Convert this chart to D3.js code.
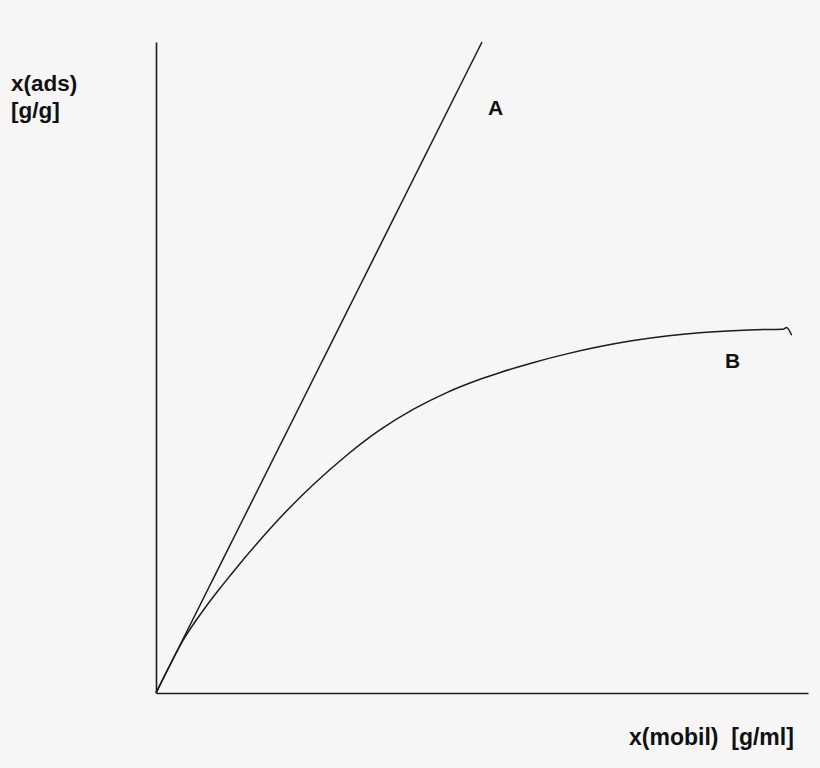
<!DOCTYPE html>
<html>
<head>
<meta charset="utf-8">
<script src="https://cdn.jsdelivr.net/npm/d3@7"></script>
<style>
  html, body { margin: 0; padding: 0; background: #f6f6f6; }
  svg { display: block; }
  text { font-family: "Liberation Sans", Arial, sans-serif; font-weight: bold; fill: #111; }
</style>
</head>
<body>
<svg id="chart" width="820" height="768"></svg>
<script>
// Line A (linear isotherm)
const lineAX = [0, 50];
const lineAY = [0, 100];
// Curve B (saturating isotherm)
const curveBX = [0, 2.0, 4.1, 7.7, 10.2, 12.8, 15.3, 19.0, 24.1, 29.3, 34.4, 39.5, 44.6, 49.7, 52.8, 57.8, 63.0, 68.1, 73.2, 78.3, 83.4, 88.5, 93.7, 96.2, 96.7, 97.5];
const curveBY = [0, 4.0, 7.99, 13.32, 16.57, 19.79, 22.74, 26.88, 31.98, 36.56, 40.44, 43.6, 46.15, 48.19, 49.24, 50.74, 52.09, 53.21, 54.13, 54.84, 55.35, 55.66, 55.84, 55.87, 56.15, 54.95];
const xLabel = "x(mobil)\u00a0\u00a0[g/ml]";
const yLabelLines = ["x(ads)", "[g/g]"];
const seriesLabels = ["A", "B"];

const svg = d3.select("#chart");
const x = d3.scaleLinear().domain([0, 100]).range([156, 808]);
const y = d3.scaleLinear().domain([0, 100]).range([693, 42]);

const stroke = "#1c1c1c";

// axes (no ticks)
const gx = svg.append("g").attr("transform", `translate(0,${y(0)})`)
  .call(d3.axisBottom(x).ticks(0).tickSize(0).tickSizeOuter(0));
const gy = svg.append("g").attr("transform", `translate(${x(0)},0)`)
  .call(d3.axisLeft(y).ticks(0).tickSize(0).tickSizeOuter(0));
[gx, gy].forEach(g => {
  g.select(".domain").attr("stroke", stroke).attr("stroke-width", 1.6);
  g.selectAll("text").remove();
});

const lineGen = d3.line().x(d => x(d[0])).y(d => y(d[1]));

svg.append("path")
  .datum(lineAX.map((v, i) => [v, lineAY[i]]))
  .attr("d", lineGen)
  .attr("fill", "none").attr("stroke", stroke).attr("stroke-width", 1.5);

svg.append("path")
  .datum(curveBX.map((v, i) => [v, curveBY[i]]))
  .attr("d", d3.line().x(d => x(d[0])).y(d => y(d[1])).curve(d3.curveMonotoneX))
  .attr("fill", "none").attr("stroke", stroke).attr("stroke-width", 1.5)
  .attr("stroke-linejoin", "round");

// labels
svg.append("text").attr("x", 488).attr("y", 115).attr("font-size", 21).text(seriesLabels[0]);
svg.append("text").attr("x", 725).attr("y", 368).attr("font-size", 21).text(seriesLabels[1]);

svg.append("text").attr("x", 629).attr("y", 745).attr("font-size", 23).text(xLabel);

const yl = svg.append("text").attr("x", 11).attr("y", 91).attr("font-size", 22.5);
yLabelLines.forEach((t, i) => {
  yl.append("tspan").attr("x", 11).attr("dy", i === 0 ? 0 : 27).text(t);
});
</script>
</body>
</html>
